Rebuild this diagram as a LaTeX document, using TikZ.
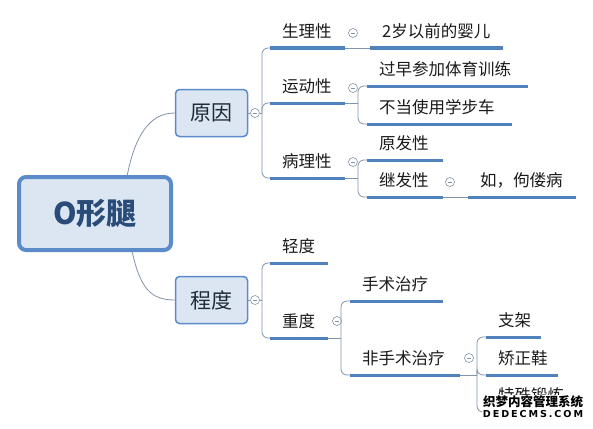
\documentclass[tikz,border=0pt]{standalone}
\usepackage{fontspec}
\setmainfont{Noto Sans CJK SC}
\newfontfamily\wmfont[LetterSpace=20]{DejaVu Sans}
\usepackage{xcolor}
\usepackage{tikz}

\definecolor{boxline}{HTML}{5B8BC9}
\definecolor{boxfill}{HTML}{DCE6F2}
\definecolor{boxtext}{HTML}{1F2B38}
\definecolor{roottext}{HTML}{2A4C78}
\definecolor{ulblue}{HTML}{4F81BD}
\definecolor{branchgray}{HTML}{8393A8}
\definecolor{leaftext}{HTML}{1A1A1A}

\tikzset{
    root/.style={draw=boxline, fill=boxfill, line width=4pt, rounded corners=7pt,
        minimum width=152pt, minimum height=73pt, text=roottext,
        font=\fontsize{30}{30}\selectfont\bfseries},
    topic/.style={draw=boxline, fill=boxfill, line width=1.5pt, rounded corners=4pt,
        minimum width=72pt, minimum height=47pt, text=boxtext,
        font=\fontsize{21}{21}\selectfont},
    uline/.style={draw=ulblue, line width=3pt},
    branch/.style={draw=branchgray, line width=0.8pt},
    leaf/.style={anchor=south west, inner xsep=0pt, inner ysep=6pt,
        text width=#1pt, text height=12pt, text depth=4pt, align=left,
        text=leaftext, font=\fontsize{16.5}{18}\selectfont,
        execute at begin node={\hspace*{12pt}},
        append after command={(\tikzlastnode.south west) edge[uline] (\tikzlastnode.south east)}},
    fold/.style={circle, draw=branchgray, line width=0.6pt, minimum size=9pt, inner sep=0pt,
        path picture={\draw[branchgray, line width=0.6pt]
            ([xshift=-2.2pt]path picture bounding box.center) -- ([xshift=2.2pt]path picture bounding box.center);}},
    wmark/.style={fill=white, inner sep=0.6pt, text=black}
}

\begin{document}
\begin{tikzpicture}[x=1pt, y=-1pt]
    \useasboundingbox (0,0) rectangle (593,428);

    \node[root] (oleg) at (95,213.5) {O形腿};
    \node[topic] (yy) at (211.5,113) {原因};
    \node[topic] (cd) at (211.5,300) {程度};

    \draw[branch] (oleg.50) .. controls +(8,-40) and +(-25,0) .. (yy.west);
    \draw[branch] (oleg.-46) .. controls +(8,35) and +(-25,0) .. (cd.west);

    % 原因
    \node[fold] (yyc) at (255,113) {};
    \coordinate (yyfork) at (262,113);
    \node[leaf=75] (sl) at (270,48) {生理性};
    \node[leaf=75] (yd) at (270,103) {运动性};
    \node[leaf=75] (bl) at (270,178) {病理性};
    \draw[branch] (yy.east) -- (yyc.west);
    \draw[branch] (yyc.east) -- (yyfork);
    \foreach \kid in {sl, yd, bl}
        \draw[branch, rounded corners=6pt] (yyfork) |- (\kid.south west);

    \node[fold] (slc) at (353,33) {};
    \node[leaf=133] (ye) at (370,48) {2岁以前的婴儿};
    \draw[branch] (sl.south east) -- (ye.south west);

    \node[fold] (ydc) at (353,88) {};
    \coordinate (ydfork) at (358,103);
    \node[leaf=161] (gz) at (367,86) {过早参加体育训练};
    \node[leaf=145] (bd) at (367,124) {不当使用学步车};
    \draw[branch] (yd.south east) -- (ydfork);
    \foreach \kid in {gz, bd}
        \draw[branch, rounded corners=6pt] (ydfork) |- (\kid.south west);

    \node[fold] (blc) at (353,162) {};
    \coordinate (blfork) at (358,178);
    \node[leaf=76] (yf) at (367,160) {原发性};
    \node[leaf=76] (jf) at (367,197) {继发性};
    \draw[branch] (bl.south east) -- (blfork);
    \foreach \kid in {yf, jf}
        \draw[branch, rounded corners=6pt] (blfork) |- (\kid.south west);

    \node[fold] (jfc) at (450,182) {};
    \node[leaf=108] (glb) at (468,197) {如，佝偻病};
    \draw[branch] (jf.south east) -- (glb.south west);

    % 程度
    \node[fold] (cdc) at (255,300) {};
    \coordinate (cdfork) at (262,300);
    \node[leaf=58] (qd) at (270,263) {轻度};
    \node[leaf=58] (zd) at (270,338) {重度};
    \draw[branch] (cd.east) -- (cdc.west);
    \draw[branch] (cdc.east) -- (cdfork);
    \foreach \kid in {qd, zd}
        \draw[branch, rounded corners=6pt] (cdfork) |- (\kid.south west);

    \node[fold] (zdc) at (337,321) {};
    \coordinate (zdfork) at (341,338);
    \node[leaf=93] (ss) at (350,301) {手术治疗};
    \node[leaf=110] (fss) at (350,375) {非手术治疗};
    \draw[branch] (zd.south east) -- (zdfork);
    \foreach \kid in {ss, fss}
        \draw[branch, rounded corners=6pt] (zdfork) |- (\kid.south west);

    \node[fold] (fssc) at (469,358) {};
    \coordinate (fssfork) at (477,375);
    \node[leaf=55] (zj) at (486,337) {支架};
    \node[leaf=72] (jz) at (486,375) {矫正鞋};
    \node[leaf=82] (ts) at (486,412) {特殊锻炼};
    \draw[branch] (fss.south east) -- (fssfork);
    \foreach \kid in {zj, jz, ts}
        \draw[branch, rounded corners=6pt] (fssfork) |- (\kid.south west);

    \node[wmark, font=\fontsize{12.5}{13}\selectfont\bfseries] (wm1) at (533,402) {织梦内容管理系统};
    \node[wmark, font=\wmfont\fontsize{9.6}{10}\selectfont\bfseries] (wm2) at (533,414) {DEDECMS.COM};
\end{tikzpicture}
\end{document}
